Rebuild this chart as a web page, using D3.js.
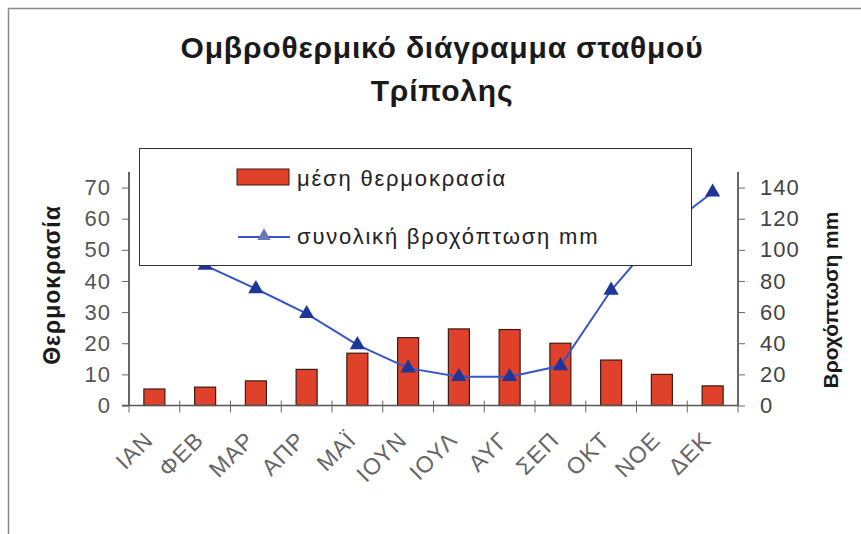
<!DOCTYPE html>
<html>
<head>
<meta charset="utf-8">
<script src="https://cdn.jsdelivr.net/npm/d3@7"></script>
<style>
body { margin: 0; background: #fff; }
text { font-family: "Liberation Sans", Arial, sans-serif; }
</style>
</head>
<body>
<div id="chart"></div>
<script>
var width = 861,
height = 534;

// data
var months = ["ΙΑΝ", "ΦΕΒ", "ΜΑΡ", "ΑΠΡ", "ΜΑΪ", "ΙΟΥΝ", "ΙΟΥΛ", "ΑΥΓ", "ΣΕΠ", "ΟΚΤ", "ΝΟΕ", "ΔΕΚ"]
var temperature = [5.3, 5.9, 7.9, 11.6, 16.8, 21.8, 24.6, 24.4, 20, 14.6, 10, 6.3]
var rainfall = [110, 90, 75, 59, 39, 24, 18.5, 18.5, 25.5, 74, 112, 137]
var leftTicks = [0, 10, 20, 30, 40, 50, 60, 70]
var rightTicks = [0, 20, 40, 60, 80, 100, 120, 140]

var svg = d3.select("#chart").append("svg")
.attr("width", width)
.attr("height", height)

// frame lines
svg.append("line").attr("x1", 8).attr("x2", width).attr("y1", 8.5).attr("y2", 8.5)
.attr("stroke", "#8a8a8a").attr("stroke-width", 1.5)
svg.append("line").attr("x1", 8.5).attr("x2", 8.5).attr("y1", 8).attr("y2", height)
.attr("stroke", "#8a8a8a").attr("stroke-width", 1.5)

var plotLeft = 129, plotRight = 738, plotTop = 172, plotBottom = 405.5

var x = d3.scaleBand().domain(months).range([plotLeft, plotRight])
var yT = d3.scaleLinear().domain([0, 75]).range([plotBottom, plotTop])
var yR = d3.scaleLinear().domain([0, 150]).range([plotBottom, plotTop])

// title
var title = svg.append("text")
.attr("text-anchor", "middle")
.attr("font-weight", "bold")
.attr("font-size", 30)
.attr("letter-spacing", 0.8)
.attr("fill", "#1a1a1a")
title.append("tspan").attr("x", 442).attr("y", 58).text("Ομβροθερμικό διάγραμμα σταθμού")
title.append("tspan").attr("x", 442).attr("y", 101).text("Τρίπολης")

// bars
svg.selectAll("rect.bar")
.data(temperature)
.join("rect")
.attr("class", "bar")
.attr("x", function (d, i) { return x(months[i]) + x.bandwidth() / 2 - 10.5 })
.attr("width", 21)
.attr("y", function (d) { return yT(d) })
.attr("height", function (d) { return plotBottom - yT(d) })
.attr("fill", "#e0412a")
.attr("stroke", "#3a1c14")
.attr("stroke-width", 1.2)

// left axis
var axL = svg.append("g")
.attr("transform", "translate(" + plotLeft + ",0)")
.call(d3.axisLeft(yT).tickValues(leftTicks).tickSize(7).tickPadding(11))
axL.select(".domain").attr("d", "M0," + plotTop + "V" + plotBottom).attr("stroke", "#333").attr("stroke-width", 1.5)
axL.selectAll(".tick line").attr("stroke", "#666")
axL.selectAll("text").attr("font-size", 22).attr("letter-spacing", 1).attr("fill", "#555").attr("font-family", "Liberation Sans, Arial, sans-serif")

// right axis
var axR = svg.append("g")
.attr("transform", "translate(" + plotRight + ",0)")
.call(d3.axisRight(yR).tickValues(rightTicks).tickSize(7).tickPadding(15))
axR.select(".domain").attr("d", "M0," + plotTop + "V" + plotBottom).attr("stroke", "#333").attr("stroke-width", 1.5)
axR.selectAll(".tick line").attr("stroke", "#666")
axR.selectAll("text").attr("font-size", 22).attr("letter-spacing", 1).attr("fill", "#444").attr("font-family", "Liberation Sans, Arial, sans-serif")

// bottom axis
var axB = svg.append("g")
.attr("transform", "translate(0," + plotBottom + ")")
.call(d3.axisBottom(x).tickSize(0).tickPadding(0))
axB.select(".domain").attr("d", "M" + (plotLeft - 7) + ",0H" + plotRight).attr("stroke", "#555").attr("stroke-width", 1.5)
axB.selectAll(".tick text")
.attr("font-size", 23)
.attr("letter-spacing", 1)
.attr("fill", "#666")
.attr("font-family", "Liberation Sans, Arial, sans-serif")
.attr("text-anchor", "end")
.attr("y", 0)
.attr("dy", 0)
.attr("transform", "translate(0,36) rotate(-45)")
// tick marks between categories
svg.selectAll("line.xt")
.data(d3.range(months.length + 1))
.join("line")
.attr("class", "xt")
.attr("x1", function (d) { return plotLeft + d * x.step() })
.attr("x2", function (d) { return plotLeft + d * x.step() })
.attr("y1", plotBottom - 5)
.attr("y2", plotBottom + 7)
.attr("stroke", "#666")

// rainfall line
var line = d3.line()
.x(function (d, i) { return x(months[i]) + x.bandwidth() / 2 })
.y(function (d) { return yR(d) })
svg.append("path")
.datum(rainfall)
.attr("d", line)
.attr("fill", "none")
.attr("stroke", "#3656c8")
.attr("stroke-width", 2)

svg.selectAll("path.tri")
.data(rainfall)
.join("path")
.attr("class", "tri")
.attr("d", d3.symbol().type(d3.symbolTriangle).size(100))
.attr("transform", function (d, i) { return "translate(" + (x(months[i]) + x.bandwidth() / 2) + "," + yR(d) + ")" })
.attr("fill", "#1f3598")

// axis titles
svg.append("text")
.attr("transform", "translate(60,285) rotate(-90)")
.attr("text-anchor", "middle")
.attr("font-weight", "bold")
.attr("font-size", 23)
.attr("letter-spacing", 1)
.attr("fill", "#1a1a1a")
.text("Θερμοκρασία")

svg.append("text")
.attr("transform", "translate(838,300) rotate(-90)")
.attr("text-anchor", "middle")
.attr("font-weight", "bold")
.attr("font-size", 21)
.attr("fill", "#1a1a1a")
.text("Βροχόπτωση mm")

// legend
var legend = svg.append("g")
legend.append("rect")
.attr("x", 139.5).attr("y", 148.5)
.attr("width", 552).attr("height", 117)
.attr("fill", "#fff")
.attr("stroke", "#333")
.attr("stroke-width", 1)

legend.append("rect")
.attr("x", 237).attr("y", 169)
.attr("width", 52).attr("height", 16)
.attr("fill", "#e0412a")
.attr("stroke", "#3a1c14")
legend.append("text")
.attr("x", 297).attr("y", 186)
.attr("font-size", 22)
.attr("letter-spacing", 1.8)
.attr("fill", "#222")
.text("μέση θερμοκρασία")

legend.append("line")
.attr("x1", 238).attr("x2", 290)
.attr("y1", 237).attr("y2", 237)
.attr("stroke", "#3656c8").attr("stroke-width", 2)
legend.append("path")
.attr("d", d3.symbol().type(d3.symbolTriangle).size(80))
.attr("transform", "translate(264,236)")
.attr("fill", "#6a78b8")
legend.append("text")
.attr("x", 297).attr("y", 244)
.attr("font-size", 22)
.attr("letter-spacing", 1.8)
.attr("fill", "#222")
.text("συνολική βροχόπτωση mm")
</script>
</body>
</html>
